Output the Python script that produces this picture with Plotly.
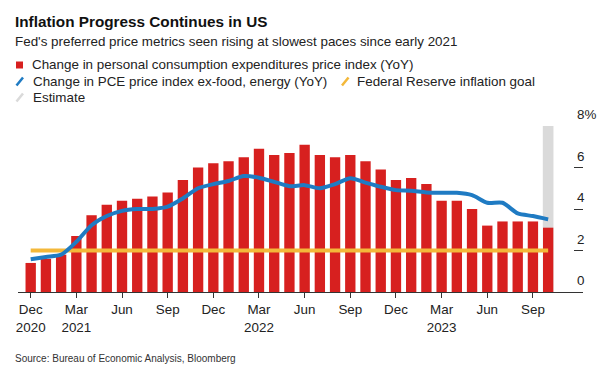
import plotly.graph_objects as go

# ---- data ----
months = ["Dec 2020", "Jan 2021", "Feb 2021", "Mar 2021", "Apr 2021", "May 2021", "Jun 2021",
          "Jul 2021", "Aug 2021", "Sep 2021", "Oct 2021", "Nov 2021", "Dec 2021",
          "Jan 2022", "Feb 2022", "Mar 2022", "Apr 2022", "May 2022", "Jun 2022",
          "Jul 2022", "Aug 2022", "Sep 2022", "Oct 2022", "Nov 2022", "Dec 2022",
          "Jan 2023", "Feb 2023", "Mar 2023", "Apr 2023", "May 2023", "Jun 2023",
          "Jul 2023", "Aug 2023", "Sep 2023", "Oct 2023"]
pce = [1.4, 1.6, 1.8, 2.7, 3.7, 4.2, 4.4, 4.5, 4.6, 4.8, 5.4, 6.0, 6.2,
       6.3, 6.5, 6.9, 6.6, 6.7, 7.1, 6.6, 6.5, 6.6, 6.3, 5.9, 5.4,
       5.5, 5.2, 4.4, 4.4, 4.0, 3.2, 3.4, 3.4, 3.4, 3.1]
core = [1.58, 1.69, 1.80, 2.42, 3.22, 3.66, 3.91, 4.0, 4.0, 4.11, 4.51, 5.0, 5.2,
        5.35, 5.59, 5.51, 5.31, 5.1, 5.15, 5.0, 5.2, 5.48, 5.27, 5.07, 4.91,
        4.88, 4.80, 4.78, 4.78, 4.67, 4.30, 4.30, 3.79, 3.66, 3.50]
fed_goal = 2.0
estimate_month = "Oct 2023"
estimate_top = 8
tick_months = ["Dec 2020", "Mar 2021", "Jun 2021", "Sep 2021", "Dec 2021", "Mar 2022",
               "Jun 2022", "Sep 2022", "Dec 2022", "Mar 2023", "Jun 2023", "Sep 2023"]
tick_text = ["Dec<br>2020", "Mar<br>2021", "Jun", "Sep", "Dec", "Mar<br>2022",
             "Jun", "Sep", "Dec", "Mar<br>2023", "Jun", "Sep"]
y_ticks = [0, 2, 4, 6, 8]
y_tick_text = ["0", "2", "4", "6", "8%"]

# ---- styles ----
RED = "#d7201f"
BLUE = "#1f7bc3"
ORANGE = "#f3b83a"
GRAY = "#dadada"
FONT = "Liberation Sans"
TXT = "#222222"

x = list(range(len(months)))
idx = {m: i for i, m in enumerate(months)}

fig = go.Figure()
fig.add_trace(go.Bar(x=[idx[estimate_month]], y=[estimate_top], marker_color=GRAY,
                     width=0.7, marker_line_width=0, hoverinfo="skip"))
fig.add_trace(go.Bar(x=x, y=pce, marker_color=RED, width=0.68, marker_line_width=0))
fig.add_trace(go.Scatter(x=[x[0], x[-1]], y=[fed_goal, fed_goal], mode="lines",
                         line=dict(color=ORANGE, width=4)))
fig.add_trace(go.Scatter(x=x, y=core, mode="lines",
                         line=dict(color=BLUE, width=4, shape="spline", smoothing=0.7)))

W, H = 600, 373
L, R, T, B = 18, 17, 126, 81

fig.update_layout(
    width=W, height=H, margin=dict(l=L, r=R, t=T, b=B),
    paper_bgcolor="white", plot_bgcolor="white",
    showlegend=False, barmode="overlay", hovermode=False,
    font=dict(family=FONT, size=13, color=TXT),
    xaxis=dict(range=[-0.834, 36.29], tickmode="array",
               tickvals=[idx[m] for m in tick_months], ticktext=tick_text,
               ticks="outside", ticklen=5, tickcolor="#333", tickwidth=1,
               showline=True, linecolor="#333", linewidth=1,
               showgrid=False, zeroline=False, fixedrange=True,
               tickfont=dict(size=13.4, color=TXT)),
    yaxis=dict(range=[0, 8], side="right", tickmode="array", tickvals=y_ticks[1:],
               ticks="inside", ticklen=9, tickcolor="#333", tickwidth=1,
               showticklabels=False, showgrid=False, zeroline=False,
               showline=False, fixedrange=True),
)

ann = []
for v, t in zip(y_ticks, y_tick_text):
    ann.append(dict(x=(575 - L) / (W - L - R), xref="paper", y=v, yref="y", text=t,
                    showarrow=False, xanchor="left", yanchor="bottom", yshift=2,
                    font=dict(size=13.4, color=TXT)))

def P(px, py):
    return ((px - L) / (W - L - R), 1 - (py - T) / (H - T - B))

def txtpx(px, py, text, size=13.4, color=TXT, bold=False):
    xx, yy = P(px, py)
    ann.append(dict(x=xx, y=yy, xref="paper", yref="paper",
                    text=("<b>%s</b>" % text) if bold else text,
                    showarrow=False, xanchor="left", yanchor="middle",
                    font=dict(size=size, color=color, family=FONT)))

txtpx(13, 21.5, "Inflation Progress Continues in US", size=15.3, color="#111", bold=True)
txtpx(13, 41.5, "Fed's preferred price metrics seen rising at slowest paces since early 2021")
txtpx(30, 65, "Change in personal consumption expenditures price index (YoY)")
txtpx(31, 81.5, "Change in PCE price index ex-food, energy (YoY)")
txtpx(355, 81.5, "Federal Reserve inflation goal")
txtpx(31, 97.5, "Estimate")
txtpx(13, 358, "Source: Bureau of Economic Analysis, Bloomberg", size=10, color="#333")

shapes = []
def rect(x0, y0, x1, y1, color):
    a0, b0 = P(x0, y0); a1, b1 = P(x1, y1)
    shapes.append(dict(type="rect", xref="paper", yref="paper", x0=a0, y0=b0, x1=a1, y1=b1,
                       fillcolor=color, line=dict(width=0)))
def slash(x0, y0, x1, y1, color):
    a0, b0 = P(x0, y0); a1, b1 = P(x1, y1)
    shapes.append(dict(type="line", xref="paper", yref="paper", x0=a0, y0=b0, x1=a1, y1=b1,
                       line=dict(color=color, width=2.5)))

rect(16, 61.5, 23, 68.5, RED)
slash(16.5, 85.5, 23, 77.5, BLUE)
slash(342, 85.5, 348.5, 77.5, ORANGE)
slash(16.5, 101.5, 23, 93.5, GRAY)

fig.update_layout(annotations=ann, shapes=shapes)
fig.write_html("out.html", config={"displayModeBar": False, "staticPlot": False},
               post_script="document.body.style.margin='0';document.body.style.padding='0';")
